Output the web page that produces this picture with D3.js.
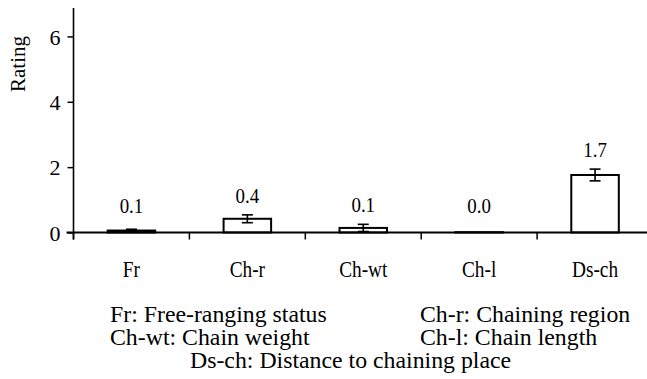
<!DOCTYPE html>
<html><head><meta charset="utf-8">
<script src="https://cdn.jsdelivr.net/npm/d3@7/dist/d3.min.js"></script>
<style>
html,body{margin:0;padding:0;background:#fff;}
svg text{font-family:"Liberation Serif","Times New Roman",serif;fill:#000;}
</style></head>
<body>
<svg id="chart" width="647" height="379"></svg>
<script>
const categories = ["Fr", "Ch-r", "Ch-wt", "Ch-l", "Ds-ch"];
const values = [0.06, 0.42, 0.14, 0.01, 1.76];
const errors = [0.04, 0.12, 0.11, 0.0, 0.18];
const valueLabels = ["0.1", "0.4", "0.1", "0.0", "1.7"];
const yTicks = [0, 2, 4, 6];
const yLabel = "Rating";
const legendLines = [
  ["Fr: Free-ranging status", "Ch-r: Chaining region"],
  ["Ch-wt: Chain weight", "Ch-l: Chain length"],
  ["Ds-ch: Distance to chaining place"]
];

const svg = d3.select("#chart");
const x0 = 73.5, xEnd = 653;
const x = d3.scaleBand().domain(categories).range([x0, xEnd]).padding(0);
const y = d3.scaleLinear().domain([0, 6.87]).range([232.5, 8]);
const barW = x.bandwidth() * 0.41;

function sText(g, tx, ty, sx, size, anchor, txt) {
  return g.append("text")
    .attr("transform", `translate(${tx},${ty}) scale(${sx},1)`)
    .attr("text-anchor", anchor).attr("font-size", size).text(txt);
}

// bars
svg.append("g").selectAll("rect").data(categories).join("rect")
  .attr("x", d => x(d) + x.bandwidth()/2 - barW/2)
  .attr("y", (d,i) => y(values[i]))
  .attr("width", barW)
  .attr("height", (d,i) => y(0) - y(values[i]))
  .attr("fill", "#fff").attr("stroke", "#000").attr("stroke-width", 2);

// error bars
const eg = svg.append("g").attr("stroke", "#000").attr("stroke-width", 1.6);
categories.forEach((c, i) => {
  if (errors[i] <= 0) return;
  const cx = x(c) + x.bandwidth()/2;
  const capW = 5.5;
  const yt = y(values[i] + errors[i]), yb = y(Math.max(0, values[i] - errors[i]));
  eg.append("line").attr("x1", cx).attr("x2", cx).attr("y1", yt).attr("y2", yb);
  eg.append("line").attr("x1", cx - capW).attr("x2", cx + capW).attr("y1", yt).attr("y2", yt);
  eg.append("line").attr("x1", cx - capW).attr("x2", cx + capW).attr("y1", yb).attr("y2", yb);
});

// value labels
const vg = svg.append("g");
categories.forEach((c, i) => {
  sText(vg, x(c) + x.bandwidth()/2, Math.min(y(values[i] + errors[i]) - 12, 213), 0.88, 21.5, "middle", valueLabels[i]);
});

// y axis
const yAxis = d3.axisLeft(y).tickValues(yTicks).tickSize(6).tickSizeOuter(0).tickFormat(d3.format("d"));
const gy = svg.append("g").attr("transform", `translate(${x0},0)`).call(yAxis);
gy.select(".domain").remove();
gy.selectAll(".tick line").attr("stroke", "#000").attr("stroke-width", 1.5);
gy.selectAll(".tick text").attr("font-size", 22).attr("x", -13).attr("dy", "0.35em");
svg.append("line").attr("x1", x0).attr("x2", x0).attr("y1", y.range()[1]).attr("y2", y(0) + 7)
  .attr("stroke", "#000").attr("stroke-width", 1.6);

// x axis
svg.append("line").attr("x1", x0 - 7).attr("x2", 647).attr("y1", y(0)).attr("y2", y(0))
  .attr("stroke", "#000").attr("stroke-width", 1.8);
const bounds = categories.map(c => x(c)).concat([xEnd]);
svg.append("g").selectAll("line").data(bounds).join("line")
  .attr("x1", d => d).attr("x2", d => d).attr("y1", y(0)).attr("y2", y(0) + 7)
  .attr("stroke", "#000").attr("stroke-width", 1.5);
const xg = svg.append("g");
categories.forEach(c => sText(xg, x(c) + x.bandwidth()/2, 277, 0.84, 23, "middle", c));

// y label
svg.append("text").attr("transform", "translate(25,64) rotate(-90)")
  .attr("text-anchor", "middle").attr("font-size", 21).text(yLabel);

// legend
const legX = [110, 420];
const legY = [321.5, 345, 368];
legendLines.forEach((row, r) => {
  row.forEach((t, k) => {
    const tx = row.length === 1 ? 190 : legX[k];
    svg.append("text").attr("x", tx).attr("y", legY[r]).attr("font-size", 23.8).text(t);
  });
});
</script>
</body></html>
